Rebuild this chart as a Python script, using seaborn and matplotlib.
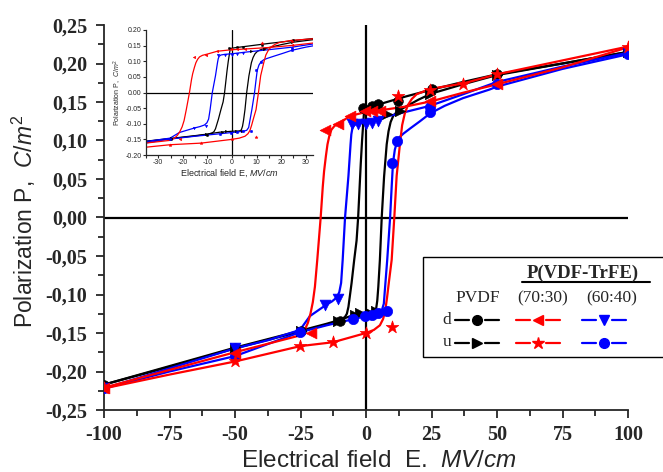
import numpy as np
import pandas as pd
import matplotlib
matplotlib.use("Agg")
import matplotlib.pyplot as plt
import seaborn as sns
from matplotlib.lines import Line2D
from matplotlib.patches import Rectangle
from matplotlib.ticker import MultipleLocator, FuncFormatter

# ---------------- data ----------------
# PVDF, descending branch (d) : +100 -> -100
pvdf_d_E = [100, 75, 50, 37, 25, 15, 8, 4, 1, -0.5, -0.8, -1.0, -1.5, -2.0, -2.5, -3.0,
            -3.6, -4.5, -5.5, -6.7, -7.3, -8, -10, -15, -25, -50, -75, -100]
pvdf_d_P = [0.215, 0.200, 0.186, 0.176, 0.166, 0.157, 0.150, 0.146, 0.143, 0.141, 0.135,
            0.125, 0.100, 0.070, 0.035, 0.0, -0.030, -0.055, -0.085, -0.116, -0.125,
            -0.129, -0.134, -0.139, -0.148, -0.170, -0.194, -0.217]
pvdf_d_mE = [100, 50, 25, 12.2, 4.7, 2.2, -1.0, -10, -25, -50, -100]
pvdf_d_mP = [0.215, 0.186, 0.167, 0.151, 0.147, 0.145, 0.142, -0.135, -0.148, -0.170, -0.217]

# PVDF, ascending branch (u) : -100 -> +100
pvdf_u_E = [-100, -75, -50, -25, -15, -10, -5, 0, 3, 3.8, 4.3, 4.7, 5.3, 6.0, 6.9, 7.9,
            8.6, 9.4, 10.4, 12, 13.6, 20, 25, 37, 50, 75, 100]
pvdf_u_P = [-0.217, -0.193, -0.169, -0.147, -0.138, -0.133, -0.127, -0.124, -0.123,
            -0.120, -0.108, -0.090, -0.055, 0.0, 0.053, 0.095, 0.112, 0.124, 0.132,
            0.138, 0.141, 0.153, 0.161, 0.173, 0.185, 0.200, 0.215]
pvdf_u_mE = [-100, -50, -25, -10.5, -4.2, -2.3, 1.5, 4.0, 7.9, 13, 24.4, 50, 100]
pvdf_u_mP = [-0.217, -0.169, -0.147, -0.134, -0.126, -0.124, -0.124, -0.122, 0.134,
             0.138, 0.161, 0.185, 0.215]

# P(VDF-TrFE) 70:30, descending (d)
t70_d_E = [100, 75, 50, 37, 25, 15, 5, 0, -6, -10, -12, -13.2, -14.0, -14.7, -15.3,
           -16.0, -16.5, -17.3, -18.6, -19.5, -20.3, -21.2, -22.2, -23.4, -25, -50,
           -75, -100]
t70_d_P = [0.221, 0.195, 0.173, 0.162, 0.151, 0.144, 0.139, 0.137, 0.132, 0.123, 0.119,
           0.114, 0.106, 0.095, 0.080, 0.060, 0.040, 0.0, -0.055, -0.090, -0.110,
           -0.125, -0.137, -0.146, -0.153, -0.175, -0.198, -0.221]
t70_d_mE = [100, 50, 24.4, 5.3, 2.2, -0.5, -6.1, -10.5, -15.5, -21, -50, -100]
t70_d_mP = [0.221, 0.173, 0.151, 0.138, 0.138, 0.138, 0.132, 0.121, 0.114, -0.150,
            -0.176, -0.221]

# P(VDF-TrFE) 70:30, ascending (u)
t70_u_E = [-100, -75, -50, -25, -12.6, 0, 3, 5.3, 6.5, 7.3, 8.0, 8.7, 9.8, 10.8, 11.7,
           13, 13.8, 14.8, 16, 17.5, 19.3, 24.4, 37, 50, 75, 100]
t70_u_P = [-0.222, -0.204, -0.187, -0.167, -0.162, -0.150, -0.146, -0.140, -0.132,
           -0.122, -0.105, -0.085, -0.055, 0.0, 0.054, 0.097, 0.120, 0.135, 0.146,
           0.154, 0.160, 0.167, 0.174, 0.186, 0.204, 0.222]
t70_u_mE = [-100, -50, -25.2, -12.6, 0, 9.8, 12.2, 24.4, 37, 50, 100]
t70_u_mP = [-0.222, -0.187, -0.167, -0.162, -0.150, -0.142, 0.158, 0.166, 0.173,
            0.186, 0.222]

# P(VDF-TrFE) 60:40, descending (d)
t60_d_E = [100, 75, 50, 37, 24.4, 15, 6.5, 0, -3, -4.5, -5.2, -5.6, -5.9, -6.7, -8.0,
           -8.9, -9.5, -10.2, -11.2, -13, -15, -18, -21.4, -25.2, -37, -50, -75, -100]
t60_d_P = [0.214, 0.196, 0.176, 0.160, 0.145, 0.137, 0.130, 0.124, 0.122, 0.120,
           0.116, 0.108, 0.095, 0.054, 0.0, -0.055, -0.085, -0.097, -0.104, -0.109,
           -0.113, -0.120, -0.128, -0.146, -0.159, -0.170, -0.196, -0.222]
t60_d_mE = [100, 4.6, 2.2, 0, -3, -5.5, -10.6, -15.6, -50, -100]
t60_d_mP = [0.214, 0.125, 0.123, 0.121, 0.121, 0.121, -0.106, -0.113, -0.169, -0.222]

# P(VDF-TrFE) 60:40, ascending (u)
t60_u_E = [-100, -75, -50, -25.2, -15, -4.8, 0, 4.7, 6.0, 6.8, 7.3, 8.1, 9.2, 9.8,
           10.3, 11.0, 11.9, 13, 14.3, 17, 20.6, 24.4, 30, 37, 47, 50, 75, 100]
t60_u_P = [-0.222, -0.200, -0.180, -0.149, -0.140, -0.132, -0.128, -0.124, -0.121,
           -0.112, -0.090, -0.055, 0.0, 0.040, 0.071, 0.088, 0.099, 0.105, 0.109,
           0.116, 0.125, 0.135, 0.145, 0.155, 0.166, 0.170, 0.193, 0.212]
t60_u_mE = [-100, -50, -25.2, -4.8, -0.4, 2.2, 4.7, 7.9, 9.8, 11.7, 24.4, 24.4, 50, 100]
t60_u_mP = [-0.222, -0.180, -0.149, -0.132, -0.128, -0.126, -0.124, -0.122, 0.071,
            0.099, 0.137, 0.143, 0.174, 0.212]

# ---------------- styling ----------------
BLACK, RED, BLUE = "#000000", "#ff0000", "#0000ff"

branches = [
    # name, line E, line P, marker E, marker P, color, marker, size
    ("pvdf_d", pvdf_d_E, pvdf_d_P, pvdf_d_mE, pvdf_d_mP, BLACK, "o", 48),
    ("pvdf_u", pvdf_u_E, pvdf_u_P, pvdf_u_mE, pvdf_u_mP, BLACK, ">", 55),
    ("t60_d", t60_d_E, t60_d_P, t60_d_mE, t60_d_mP, BLUE, "v", 60),
    ("t60_u", t60_u_E, t60_u_P, t60_u_mE, t60_u_mP, BLUE, "o", 55),
    ("t70_d", t70_d_E, t70_d_P, t70_d_mE, t70_d_mP, RED, "<", 60),
    ("t70_u", t70_u_E, t70_u_P, t70_u_mE, t70_u_mP, RED, "*", 90),
]

rows = []
for name, E, P, _, _, _, _, _ in branches:
    for i, (e, p) in enumerate(zip(E, P)):
        rows.append({"branch": name, "E": e, "P": p, "order": i})
lines_df = pd.DataFrame(rows)

sns.set_theme(style="ticks")
plt.rcParams.update({
    "font.family": ["Liberation Serif", "DejaVu Serif"],
    "axes.unicode_minus": False,
    "mathtext.fontset": "custom",
    "mathtext.rm": "Liberation Sans",
    "mathtext.it": "Liberation Sans:italic",
    "axes.linewidth": 1.3,
    "xtick.direction": "out",
    "ytick.direction": "out",
    "lines.solid_joinstyle": "round",
})

fig = plt.figure(figsize=(6.63, 4.72), dpi=100)
ax = fig.add_axes([104 / 663, 62 / 472, 524 / 663, 385 / 472])


def draw(axis, lw, scale, edge):
    axis.axhline(0, color="black", lw=lw, zorder=1)
    axis.axvline(0, color="black", lw=lw, zorder=1)
    for name, _, _, mE, mP, col, mk, s in branches:
        sub = lines_df[lines_df["branch"] == name]
        sns.lineplot(data=sub, x="E", y="P", sort=False, estimator=None,
                     color=col, lw=lw, ax=axis, legend=False, zorder=2)
        sns.scatterplot(x=mE, y=mP, marker=mk, s=s * scale, color=col,
                        edgecolor=col, linewidth=edge, ax=axis, legend=False,
                        zorder=3)


draw(ax, 1.6, 1.0, 0.5)

ax.set_xlim(-100, 100)
ax.set_ylim(-0.25, 0.25)
ax.xaxis.set_major_locator(MultipleLocator(25))
ax.xaxis.set_minor_locator(MultipleLocator(12.5))
ax.yaxis.set_major_locator(MultipleLocator(0.05))
ax.yaxis.set_minor_locator(MultipleLocator(0.025))
ax.yaxis.set_major_formatter(FuncFormatter(
    lambda v, _: f"{v:.2f}".replace(".", ",").replace("-0,00", "0,00")))
ax.xaxis.set_major_formatter(FuncFormatter(lambda v, _: f"{v:.0f}"))
ax.tick_params(which="major", length=6, width=1.3, labelsize=14.5)
ax.tick_params(axis="y", which="major", pad=6)
ax.tick_params(axis="x", which="major", pad=5)
ax.tick_params(which="minor", length=4, width=1.3)
for lab in ax.get_xticklabels() + ax.get_yticklabels():
    lab.set_fontweight("bold")
sns.despine(ax=ax)

ax.set_xlabel("Electrical field  E.  $\\it{MV/cm}$", fontsize=17.5,
              family="Liberation Sans")
ax.xaxis.set_label_coords(0.524, -0.105)
ax.set_ylabel("Polarization P,  $\\it{C/m^2}$", fontsize=16.5,
              family="Liberation Sans")
ax.yaxis.set_label_coords(-0.125, 0.49)

# ---------------- inset ----------------
ins = fig.add_axes([146 / 663, 317 / 472, 167 / 663, 125 / 472])
draw(ins, 0.9, 0.06, 0.3)
ins.set_xlim(-35, 33)
ins.set_ylim(-0.2, 0.2)
ins.xaxis.set_major_locator(MultipleLocator(10))
ins.xaxis.set_minor_locator(MultipleLocator(5))
ins.yaxis.set_major_locator(MultipleLocator(0.05))
ins.yaxis.set_major_formatter(FuncFormatter(
    lambda v, _: f"{v:.2f}".replace("-0.00", "0.00")))
ins.tick_params(which="both", length=2, width=0.8, labelsize=5, pad=1)
for lab in ins.get_xticklabels() + ins.get_yticklabels():
    lab.set_family("Liberation Sans")
for sp in ("left", "bottom"):
    ins.spines[sp].set_linewidth(0.9)
sns.despine(ax=ins)
ins.patch.set_alpha(0)
ins.set_xlabel("Electrical field E, $\\it{MV/cm}$", fontsize=6.5,
               family="Liberation Sans", labelpad=1)
ins.set_ylabel("Polarization P,  $\\it{C/m^2}$", fontsize=5,
               family="Liberation Sans", labelpad=1)

# ---------------- custom legend ----------------
def fx(px):
    return px / 663


def fy(py):
    return 1 - py / 472


fig.patches.append(Rectangle((fx(423), fy(357)), fx(300), fy(257) - fy(357),
                             transform=fig.transFigure, facecolor="white",
                             edgecolor="black", lw=1.0, zorder=5))
fig.text(fx(583), fy(273), "P(VDF-TrFE)", ha="center", va="center",
         fontsize=13.5, fontweight="bold", zorder=6)
fig.lines.append(Line2D([fx(522), fx(650)], [fy(282), fy(282)],
                        transform=fig.transFigure, color="black", lw=1.5,
                        zorder=6))
for txt, px in (("PVDF", 478), ("(70:30)", 543), ("(60:40)", 612)):
    fig.text(fx(px), fy(298), txt, ha="center", va="center", fontsize=12.5,
             zorder=6)
fig.text(fx(447), fy(320), "d", ha="center", va="center", fontsize=12.5, zorder=6)
fig.text(fx(447), fy(342), "u", ha="center", va="center", fontsize=12.5, zorder=6)

legend_cells = [
    (477, 320, BLACK, "o"), (477, 343, BLACK, ">"),
    (538, 320, RED, "<"), (538, 343, RED, "*"),
    (604, 320, BLUE, "v"), (604, 343, BLUE, "o"),
]
for cx, cy, col, mk in legend_cells:
    for a, b in ((cx - 22, cx - 8), (cx + 8, cx + 22)):
        fig.lines.append(Line2D([fx(a), fx(b)], [fy(cy), fy(cy)],
                                transform=fig.transFigure, color=col, lw=1.6,
                                zorder=6))
    fig.lines.append(Line2D([fx(cx)], [fy(cy)], transform=fig.transFigure,
                            color=col, marker=mk,
                            markersize=9 if mk == "*" else 7, lw=0, zorder=7))

fig.savefig("out.png", dpi=100)
